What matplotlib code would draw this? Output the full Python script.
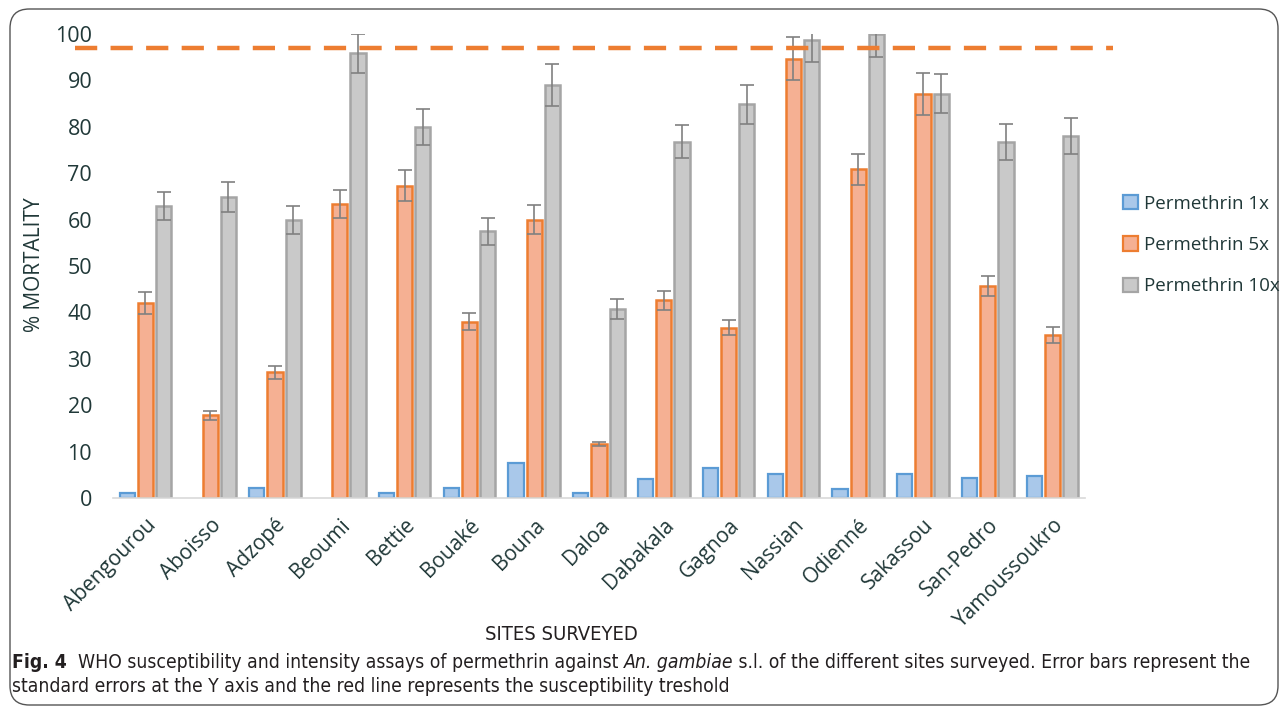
import matplotlib
matplotlib.use('Agg')
import matplotlib.pyplot as plt
import numpy as np
from matplotlib.patches import FancyBboxPatch, Patch
from matplotlib import font_manager

# ---------------- data ----------------
sites = ['Abengourou', 'Aboisso', 'Adzopé', 'Beoumi', 'Bettie', 'Bouaké', 'Bouna',
         'Daloa', 'Dabakala', 'Gagnoa', 'Nassian', 'Odienné', 'Sakassou',
         'San-Pedro', 'Yamoussoukro']
perm1 = [1.1, 0, 2.2, 0, 1.1, 2.2, 7.5, 1.1, 4.0, 6.4, 5.2, 1.9, 5.2, 4.4, 4.7]
perm5 = [42.0, 17.8, 27.1, 63.3, 67.3, 38.0, 60.0, 11.7, 42.6, 36.7, 94.7, 70.8, 87.1, 45.7, 35.1]
perm5_err = [2.3, 1.0, 1.4, 3.0, 3.3, 1.8, 3.1, 0.4, 2.0, 1.6, 4.7, 3.3, 4.5, 2.2, 1.7]
perm10 = [63.0, 64.9, 60.0, 95.8, 80.0, 57.5, 89.0, 40.7, 76.8, 84.9, 98.7, 100.0, 87.1, 76.8, 78.1]
perm10_err = [3.0, 3.3, 3.0, 4.2, 3.9, 2.9, 4.5, 2.1, 3.6, 4.2, 4.7, 4.9, 4.2, 3.9, 3.9]
series_labels = ['Permethrin 1x', 'Permethrin 5x', 'Permethrin 10x']
threshold = 97
yticks = list(range(0, 101, 10))

# ---------------- fonts ----------------
avail = set(f.name for f in font_manager.fontManager.ttflist)
def pick(*names):
    for n in names:
        if n in avail:
            return n
    return 'DejaVu Sans'
narrow = pick('Liberation Sans Narrow', 'DejaVu Sans')
body = pick('Open Sans', 'Lato', 'DejaVu Sans')
txt_col = '#203838'

W, H = 1287, 713
fig = plt.figure(figsize=(W / 100, H / 100), dpi=100)
ax = fig.add_axes([113 / W, 1 - 498 / H, (1085 - 113) / W, (498 - 34) / H])

x = np.arange(len(sites))
bw = 0.235
off = 0.28
edge_cols = ['#5b9bd5', '#ed7d31', '#a5a5a5']
face_cols = ['#a9c8ea', '#f5b093', '#c9c9c9']
err_col = '#808080'

lw1 = [1.6 if v > 0 else 0 for v in perm1]
ax.bar(x - off, perm1, bw, color=face_cols[0], edgecolor=edge_cols[0], linewidth=lw1, zorder=2)
ax.bar(x, perm5, bw, color=face_cols[1], edgecolor=edge_cols[1], linewidth=1.8, zorder=2)
ax.bar(x + off, perm10, bw, color=face_cols[2], edgecolor=edge_cols[2], linewidth=1.8, zorder=2)
ax.errorbar(x, perm5, yerr=perm5_err, fmt='none', ecolor=err_col, elinewidth=1.2,
            capsize=5, capthick=1.2, zorder=3)
ax.errorbar(x + off, perm10, yerr=perm10_err, fmt='none', ecolor=err_col, elinewidth=1.2,
            capsize=5, capthick=1.2, zorder=3)

ax.set_xlim(-0.5, len(sites) - 0.5)
ax.set_ylim(0, 100)

# threshold line (extends slightly beyond the plot area, as in the reference)
xl = ax.get_xlim()
unit = (1085 - 113) / (xl[1] - xl[0])
ax.plot([xl[0] - (113 - 75) / unit, xl[1] + (1113 - 1085) / unit], [threshold, threshold],
        color='#ed7d31', lw=3.2, dashes=(5.0, 3.0), clip_on=False, zorder=4,
        solid_capstyle='butt', dash_capstyle='butt')

for s in ['top', 'right', 'left']:
    ax.spines[s].set_visible(False)
ax.spines['bottom'].set_color('#d9d9d9')
ax.spines['bottom'].set_linewidth(1.2)
ax.tick_params(axis='both', length=0)
ax.set_yticks(yticks)
ax.set_yticklabels([str(t) for t in yticks], fontsize=15.5, color=txt_col, family=body)
ax.tick_params(axis='y', pad=15)
ax.set_xticks(x)
ax.set_xticklabels(sites, rotation=45, ha='right', va='top', rotation_mode='anchor',
                   fontsize=15, family=body, color=txt_col)
ax.tick_params(axis='x', pad=12)

fig.text(35 / W, 1 - 265 / H, '% MORTALITY', rotation=90, ha='center', va='center',
         fontsize=15, color=txt_col, family=body)
fig.text(561 / W, 1 - 635 / H, 'SITES SURVEYED', ha='center', va='center',
         fontsize=14.5, color='#231f20', family=narrow, fontstretch='condensed')

handles = [Patch(facecolor=face_cols[i], edgecolor=edge_cols[i], linewidth=1.6) for i in range(3)]
leg = fig.legend(handles, series_labels, loc='center left',
                 bbox_to_anchor=(1106 / W, 1 - 245 / H), frameon=False,
                 handlelength=0.8, handleheight=0.8, handletextpad=0.35,
                 labelspacing=1.25, prop={'family': body, 'size': 13.5})
for t in leg.get_texts():
    t.set_color(txt_col)

# rounded outer border
border = FancyBboxPatch((10 / W, 8 / H), (1278 - 10) / W, (704 - 8) / H,
                        boxstyle='round,pad=0,rounding_size=0.015',
                        transform=fig.transFigure, fill=False, edgecolor='#555555',
                        linewidth=1.0, mutation_aspect=W / H)
fig.patches.append(border)

# caption with mixed styles
fig.canvas.draw()
renderer = fig.canvas.get_renderer()
cap_size = 13.9
cap_col = '#231f20'
def run(pieces, xpx, ypx):
    cur = xpx
    for txt, kw in pieces:
        t = fig.text(cur / W, 1 - ypx / H, txt, ha='left', va='center', fontsize=cap_size,
                     color=cap_col, family=narrow, fontstretch='condensed', **kw)
        bb = t.get_window_extent(renderer)
        cur = bb.x1
run([('Fig. 4', {'weight': 'bold'}),
     ('  WHO susceptibility and intensity assays of permethrin against ', {}),
     ('An. gambiae', {'style': 'italic'}),
     (' s.l. of the different sites surveyed. Error bars represent the', {})], 12, 663)
run([('standard errors at the Y axis and the red line represents the susceptibility treshold', {})], 12, 687)

fig.savefig('out.png', dpi=100)
